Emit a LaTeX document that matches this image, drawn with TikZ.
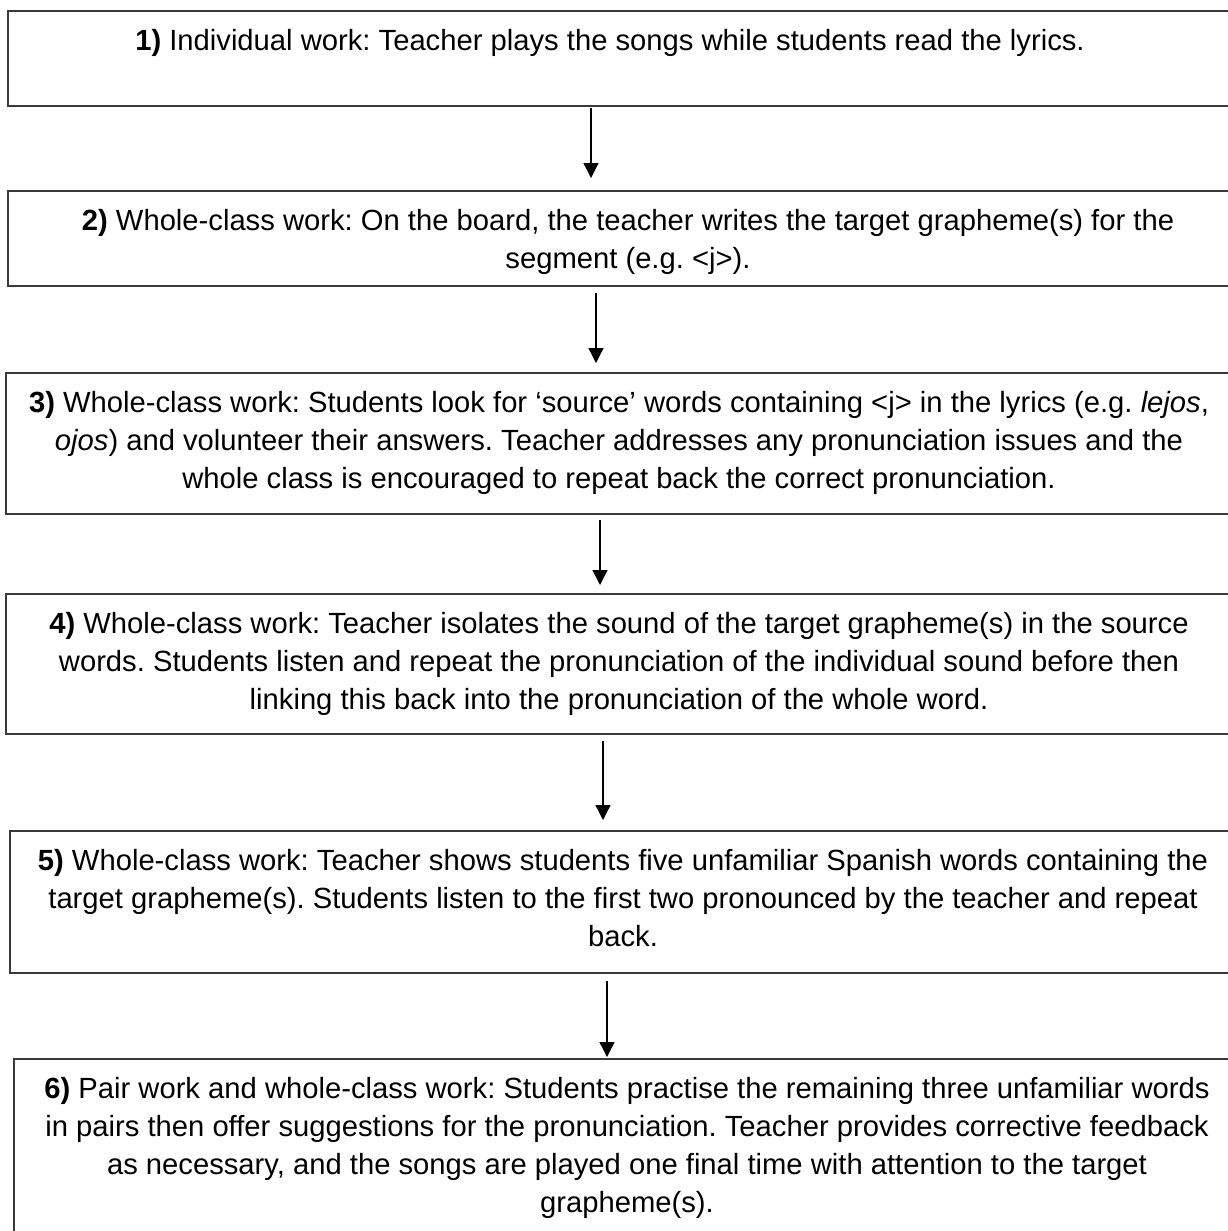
\documentclass[tikz,border=0pt]{standalone}
\usepackage{fontspec}
\setmainfont{Liberation Sans}
\usetikzlibrary{arrows.meta}
\definecolor{boxline}{HTML}{3A3A3A}
\tikzset{
  stepbox/.style={draw=boxline, line width=1.6pt, rectangle, inner sep=0pt},
  steptext/.style={anchor=north, inner sep=0pt, align=center, font=\fontsize{29.2}{38}\selectfont},
  arr/.style={draw=black, line width=1.3pt, -{Triangle[width=15pt,length=15pt]}}
}
\begin{document}
\frenchspacing
\begin{tikzpicture}[x=1pt,y=-1pt]
\useasboundingbox (0,0) rectangle (1227,1231);
% boxes
\draw[stepbox] (8,11) rectangle (1234,106);
\draw[stepbox] (8,191) rectangle (1234,286);
\draw[stepbox] (6,373) rectangle (1234,514);
\draw[stepbox] (6,594) rectangle (1234,734);
\draw[stepbox] (10,831) rectangle (1234,973);
\draw[stepbox] (14,1059) rectangle (1234,1245);
% texts
\node[steptext] (t1) at (610,23.4) {\strut\textbf{1)} Individual work: Teacher plays the songs while students read the lyrics.};
\node[steptext] (t2) at (628,203.4) {\strut\textbf{2)} Whole-class work: On the board, the teacher writes the target grapheme(s) for the\\segment (e.g. <j>).};
\node[steptext] (t3) at (619,385.4) {\strut\textbf{3)} Whole-class work: Students look for ‘source’ words containing <j> in the lyrics (e.g. \textit{lejos},\\\textit{ojos}) and volunteer their answers. Teacher addresses any pronunciation issues and the\\whole class is encouraged to repeat back the correct pronunciation.};
\node[steptext] (t4) at (619,606.4) {\strut\textbf{4)} Whole-class work: Teacher isolates the sound of the target grapheme(s) in the source\\words. Students listen and repeat the pronunciation of the individual sound before then\\linking this back into the pronunciation of the whole word.};
\node[steptext] (t5) at (623,843.4) {\strut\textbf{5)} Whole-class work: Teacher shows students five unfamiliar Spanish words containing the\\target grapheme(s). Students listen to the first two pronounced by the teacher and repeat\\back.};
\node[steptext] (t6) at (627,1071.4) {\strut\textbf{6)} Pair work and whole-class work: Students practise the remaining three unfamiliar words\\in pairs then offer suggestions for the pronunciation. Teacher provides corrective feedback\\as necessary, and the songs are played one final time with attention to the target\\grapheme(s).};
% arrows
\coordinate (a1s) at (591,108); \coordinate (a1e) at (591,178);
\coordinate (a2s) at (596,293); \coordinate (a2e) at (596,363);
\coordinate (a3s) at (600,520); \coordinate (a3e) at (600,585);
\coordinate (a4s) at (603,741); \coordinate (a4e) at (603,820);
\coordinate (a5s) at (607,981); \coordinate (a5e) at (607,1057);
\draw[arr] (a1s) -- (a1e);
\draw[arr] (a2s) -- (a2e);
\draw[arr] (a3s) -- (a3e);
\draw[arr] (a4s) -- (a4e);
\draw[arr] (a5s) -- (a5e);
\end{tikzpicture}
\end{document}
